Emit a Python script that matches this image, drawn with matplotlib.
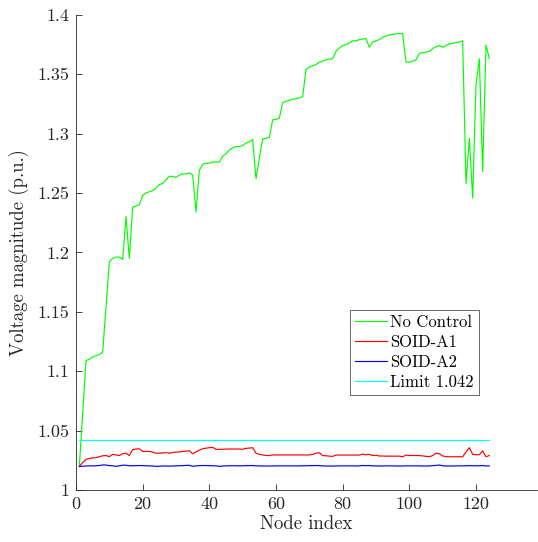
import matplotlib
matplotlib.use("Agg")
import matplotlib.pyplot as plt
import numpy as np

nodes = list(range(1, 125))

no_control = [
    1.020, 1.064, 1.109, 1.110, 1.112, 1.113, 1.114, 1.116, 1.154, 1.192,
    1.195, 1.196, 1.196, 1.194, 1.230, 1.195, 1.238, 1.239, 1.240, 1.248,
    1.250, 1.251, 1.252, 1.254, 1.257, 1.258, 1.261, 1.264, 1.264, 1.263,
    1.265, 1.266, 1.266, 1.267, 1.265, 1.234, 1.269, 1.274, 1.275, 1.275,
    1.276, 1.276, 1.276, 1.281, 1.283, 1.286, 1.288, 1.289, 1.289, 1.290,
    1.292, 1.293, 1.295, 1.262, 1.279, 1.2955, 1.296, 1.2966, 1.3115, 1.312,
    1.313, 1.326, 1.327, 1.328, 1.329, 1.329, 1.330, 1.331, 1.354, 1.356,
    1.357, 1.358, 1.360, 1.361, 1.362, 1.3625, 1.363, 1.369, 1.372, 1.374,
    1.375, 1.376, 1.378, 1.378, 1.379, 1.3795, 1.380, 1.3726, 1.377, 1.378,
    1.379, 1.381, 1.382, 1.383, 1.3835, 1.384, 1.384, 1.384, 1.360, 1.360,
    1.361, 1.362, 1.3676, 1.368, 1.3685, 1.369, 1.3715, 1.373, 1.374, 1.3726,
    1.374, 1.3755, 1.376, 1.3765, 1.377, 1.378, 1.258, 1.296, 1.246, 1.341,
    1.363, 1.268, 1.3745, 1.363,
]

soid_a1 = [
    1.020, 1.023, 1.0258, 1.0265, 1.027, 1.0272, 1.028, 1.0288, 1.029, 1.028,
    1.030, 1.0295, 1.029, 1.0305, 1.031, 1.029, 1.034, 1.0345, 1.0347, 1.0325,
    1.0325, 1.0325, 1.0318, 1.031, 1.031, 1.0312, 1.0314, 1.031, 1.0315, 1.032,
    1.032, 1.0325, 1.0327, 1.033, 1.0306, 1.032, 1.0335, 1.0347, 1.0352, 1.0356,
    1.0359, 1.0342, 1.0342, 1.0343, 1.0344, 1.0345, 1.0345, 1.0345, 1.0345, 1.0343,
    1.035, 1.0353, 1.0356, 1.031, 1.030, 1.0295, 1.029, 1.029, 1.0295, 1.0295,
    1.0295, 1.0295, 1.0295, 1.0295, 1.0295, 1.0295, 1.0295, 1.0295, 1.0295, 1.0295,
    1.030, 1.031, 1.0314, 1.029, 1.0288, 1.0285, 1.0283, 1.0294, 1.0294, 1.0294,
    1.0294, 1.0294, 1.0294, 1.0294, 1.0294, 1.0303, 1.0296, 1.030, 1.029, 1.0292,
    1.0286, 1.0286, 1.0285, 1.0285, 1.0285, 1.0285, 1.0285, 1.028, 1.0294, 1.029,
    1.029, 1.029, 1.029, 1.0287, 1.0283, 1.028, 1.029, 1.031, 1.0305, 1.0287,
    1.028, 1.028, 1.028, 1.028, 1.028, 1.028, 1.032, 1.0356, 1.030, 1.0297,
    1.0297, 1.033, 1.028, 1.029,
]

soid_a2 = [
    1.0198, 1.0200, 1.0202, 1.0203, 1.0203, 1.0204, 1.0206, 1.0211, 1.0210, 1.0205,
    1.0204, 1.0199, 1.0203, 1.0209, 1.0208, 1.0204, 1.0204, 1.0205, 1.0206, 1.0205,
    1.0204, 1.0203, 1.0202, 1.0199, 1.0200, 1.0202, 1.0202, 1.0201, 1.0202, 1.0203,
    1.0204, 1.0205, 1.0207, 1.0208, 1.0199, 1.0203, 1.0205, 1.0206, 1.0206, 1.0205,
    1.0204, 1.0203, 1.0199, 1.0202, 1.0203, 1.0204, 1.0204, 1.0204, 1.0203, 1.0204,
    1.0205, 1.0205, 1.0206, 1.0203, 1.0203, 1.0202, 1.0202, 1.0202, 1.0202, 1.0203,
    1.0203, 1.0203, 1.0203, 1.0203, 1.0203, 1.0203, 1.0203, 1.0204, 1.0204, 1.0205,
    1.0205, 1.0206, 1.0205, 1.0203, 1.0202, 1.0202, 1.0201, 1.0202, 1.0203, 1.0203,
    1.0203, 1.0203, 1.0203, 1.0202, 1.0203, 1.0206, 1.0205, 1.0206, 1.0203, 1.0203,
    1.0202, 1.0202, 1.0203, 1.0203, 1.0203, 1.0202, 1.0202, 1.0202, 1.0203, 1.0203,
    1.0203, 1.0203, 1.0203, 1.0202, 1.0202, 1.0202, 1.0205, 1.0207, 1.0210, 1.0204,
    1.0202, 1.0202, 1.0202, 1.0203, 1.0203, 1.0203, 1.0204, 1.0205, 1.0204, 1.0204,
    1.0204, 1.0206, 1.0202, 1.0203,
]

limit_value = 1.042
limit = [limit_value] * len(nodes)

labels = ["No Control", "SOID-A1", "SOID-A2", "Limit 1.042"]
xticks = [0, 20, 40, 60, 80, 100, 120]
yticks = [1.0, 1.05, 1.1, 1.15, 1.2, 1.25, 1.3, 1.35, 1.4]
ytick_labels = ["1", "1.05", "1.1", "1.15", "1.2", "1.25", "1.3", "1.35", "1.4"]

plt.rcParams["font.family"] = ["cmr10", "DejaVu Serif"]
plt.rcParams["axes.formatter.use_mathtext"] = True

fig = plt.figure(figsize=(5.38, 5.42), dpi=100)
ax = fig.add_axes([76 / 538, 52 / 542, 461 / 538, 475.3 / 542])

lw = 0.85
ax.plot(nodes, no_control, color="#00ff00", lw=lw, label=labels[0])
ax.plot(nodes, soid_a1, color="#ff0000", lw=lw, label=labels[1])
ax.plot(nodes, soid_a2, color="#0000ff", lw=lw, label=labels[2])
ax.plot(nodes, limit, color="#00ffff", lw=lw, label=labels[3])

ax.set_xlim(0, 138.3)
ax.set_ylim(1.0, 1.4)
ax.set_xticks(xticks)
ax.set_xticklabels([str(t) for t in xticks])
ax.set_yticks(yticks)
ax.set_yticklabels(ytick_labels)

for s in ["top", "right"]:
    ax.spines[s].set_visible(False)
for s in ["left", "bottom"]:
    ax.spines[s].set_color("#262626")
    ax.spines[s].set_linewidth(0.6)

ax.tick_params(direction="in", length=4, width=0.6, colors="#262626",
               labelsize=13, labelcolor="#262626", pad=5)

ax.set_xlabel("Node index", fontsize=13.5, color="#262626", labelpad=2)
ax.set_ylabel("Voltage magnitude (p.u.)", fontsize=13.5, color="#262626", labelpad=6)

leg = ax.legend(loc="upper left", bbox_to_anchor=(350 / 538, 1 - 310 / 542),
                bbox_transform=fig.transFigure, fontsize=12, frameon=True,
                fancybox=False, edgecolor="#262626", borderpad=0.3,
                labelspacing=0.28, handlelength=1.9, handletextpad=0.2,
                borderaxespad=0)
leg.get_frame().set_linewidth(0.6)

fig.savefig("out.png", dpi=100)
